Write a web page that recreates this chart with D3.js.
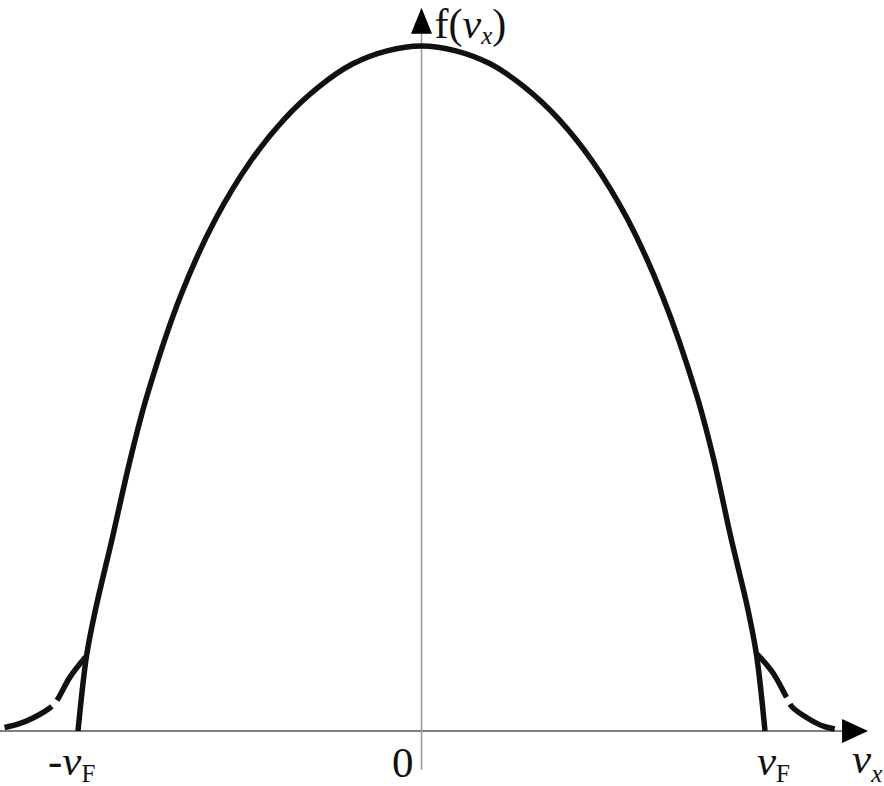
<!DOCTYPE html>
<html><head><meta charset="utf-8">
<script src="https://cdn.jsdelivr.net/npm/d3@7"></script>
<style>
html,body{margin:0;padding:0;background:#fff;}
svg{display:block;}
text{font-family:"Liberation Serif","Times New Roman",serif;fill:#111;}
</style></head>
<body>
<svg id="chart" width="884" height="786"></svg>
<script>
// velocity in units of vF, distribution value normalised to f(0)=1
const curveV = [-1.0,-0.975,-0.95,-0.9,-0.85,-0.8,-0.7,-0.6,-0.5,-0.4,-0.3,-0.2,-0.1,0,0.1,0.2,0.3,0.4,0.5,0.6,0.7,0.8,0.85,0.9,0.95,0.975,1.0];
const curveF = [0,0.110,0.175,0.282,0.392,0.488,0.637,0.747,0.830,0.893,0.940,0.974,0.993,1.0,0.993,0.974,0.940,0.893,0.830,0.747,0.637,0.492,0.398,0.284,0.178,0.112,0];
// smeared tails (ordered from junction outward)
const tailLeftV  = [-0.978,-1.023,-1.061,-1.076,-1.131,-1.175,-1.225];
const tailLeftF  = [0.108,0.079,0.045,0.036,0.019,0.010,0.004];
const tailRightV = [0.978,1.023,1.064,1.079,1.123,1.170,1.225];
const tailRightF = [0.112,0.085,0.048,0.035,0.019,0.007,0.001];
const tickV = [-1, 0, 1];
const tickLabels = [["-","v","F"],["0"],["","v","F"]];
const axisMinV = -1.23, axisMaxV = 1.30, axisMinF = -0.057, axisMaxF = 1.056;

const svg = d3.select("#chart");
const x = d3.scaleLinear().domain([-1,1]).range([78,765]);
const y = d3.scaleLinear().domain([0,1]).range([731,46]);

// axes
svg.append("line").attr("x1",x(axisMinV)).attr("x2",x(axisMaxV)-24)
  .attr("y1",y(0)).attr("y2",y(0)).attr("stroke","#555").attr("stroke-width",1.5);
svg.append("line").attr("x1",x(0)).attr("x2",x(0))
  .attr("y1",y(axisMinF)).attr("y2",y(axisMaxF)+24).attr("stroke","#999").attr("stroke-width",1.5);
// arrowheads
svg.append("path").attr("fill","#000")
  .attr("d",`M${x(axisMaxV)},${y(0)} L${x(axisMaxV)-26},${y(0)-12} L${x(axisMaxV)-26},${y(0)+12} Z`);
svg.append("path").attr("fill","#000")
  .attr("d",`M${x(0)},${y(axisMaxF)} L${x(0)-10.5},${y(axisMaxF)+26} L${x(0)+10.5},${y(axisMaxF)+26} Z`);

const line = d3.line().x(d=>x(d[0])).y(d=>y(d[1])).curve(d3.curveCatmullRom.alpha(0.5));

// dashed tails
[[tailLeftV,tailLeftF],[tailRightV,tailRightF]].forEach(([vs,fs])=>{
  svg.append("path").datum(vs.map((v,i)=>[v,fs[i]]))
    .attr("d",line).attr("fill","none").attr("stroke","#111")
    .attr("stroke-width",5.5).attr("stroke-dasharray","52,8");
});
// main curve
svg.append("path").datum(curveV.map((v,i)=>[v,curveF[i]]))
  .attr("d",line).attr("fill","none").attr("stroke","#111")
  .attr("stroke-width",5.5).attr("stroke-linejoin","round");

const FS = 43, SUB = 25;
// y-axis label f(v_x)
const yl = svg.append("text").attr("x",x(0)+13).attr("y",38).attr("font-size",42);
yl.append("tspan").text("f(");
yl.append("tspan").attr("font-style","italic").text("v");
yl.append("tspan").attr("font-style","italic").attr("font-size",SUB).attr("dy",6).text("x");
yl.append("tspan").attr("dy",-6).text(")");

// x-axis label v_x
const xl = svg.append("text").attr("x",x(axisMaxV)-16).attr("y",773).attr("font-size",FS);
xl.append("tspan").attr("font-style","italic").text("v");
xl.append("tspan").attr("font-style","italic").attr("font-size",SUB).attr("dy",9).text("x");

// tick labels
const offsets = [-30,-8,-8];
tickV.forEach((v,i)=>{
  const lab = tickLabels[i];
  if (lab.length===1){
    svg.append("text").attr("x",x(v)+offsets[i]).attr("y",777).attr("font-size",FS)
      .attr("text-anchor","end").text(lab[0]);
  } else {
    const t = svg.append("text").attr("x",x(v)+offsets[i]).attr("y",775).attr("font-size",FS);
    if (lab[0]) t.append("tspan").text(lab[0]);
    t.append("tspan").attr("font-style","italic").text(lab[1]);
    t.append("tspan").attr("font-size",SUB).attr("dy",7).text(lab[2]);
  }
});
</script>
</body></html>
